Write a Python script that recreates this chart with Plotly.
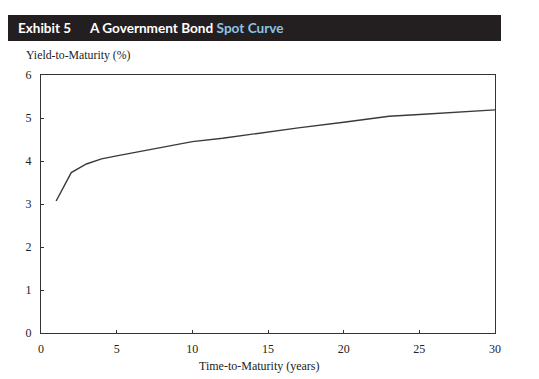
import plotly.graph_objects as go

maturity_years = [1, 2, 3, 4, 5, 7, 10, 12, 15, 17, 20, 23, 25, 27, 30]
spot_yield_pct = [3.07, 3.73, 3.93, 4.05, 4.12, 4.25, 4.45, 4.53, 4.68, 4.77, 4.90, 5.04, 5.08, 5.13, 5.19]
x_ticks = [0, 5, 10, 15, 20, 25, 30]
y_ticks = [0, 1, 2, 3, 4, 5, 6]

W, H = 539, 379
L, R, T, B = 41, 495, 75, 333
pw, ph = R - L, B - T

def px(x):
    return (x - L) / pw

def py(y):
    return (B - y) / ph

serif = "Liberation Serif, DejaVu Serif, serif"
sans = "Lato, Open Sans, sans-serif"

fig = go.Figure()
fig.add_trace(go.Scatter(x=maturity_years, y=spot_yield_pct, mode="lines",
                         line=dict(color="#3a3a3a", width=1.4),
                         showlegend=False, hoverinfo="x+y"))

axis_common = dict(showgrid=False, zeroline=False, showline=True, linecolor="#333333",
                   linewidth=1, mirror=True, ticks="inside", ticklen=3, tickcolor="#333333",
                   tickfont=dict(family=serif, size=12, color="#222222"))

fig.update_layout(
    width=W, height=H,
    margin=dict(l=L, r=W - R, t=T, b=H - B),
    paper_bgcolor="white", plot_bgcolor="white",
    xaxis=dict(range=[0, 30], tickvals=x_ticks, ticklabelstandoff=5, **axis_common),
    yaxis=dict(range=[0, 6], tickvals=y_ticks, ticklabelstandoff=6, **axis_common),
    shapes=[dict(type="rect", xref="paper", yref="paper",
                 x0=px(8), x1=px(501), y0=py(41), y1=py(15),
                 fillcolor="#231f20", line=dict(width=0), layer="above")],
    annotations=[
        dict(xref="paper", yref="paper", x=px(16), y=py(28), xanchor="left", yanchor="middle",
             text="<b>Exhibit 5</b>", showarrow=False,
             font=dict(family=sans, size=13.5, color="white")),
        dict(xref="paper", yref="paper", x=px(87), y=py(28), xanchor="left", yanchor="middle",
             text="<b>A Government Bond <span style='color:#8cc3e6'>Spot Curve</span></b>",
             showarrow=False, font=dict(family=sans, size=13.6, color="white")),
        dict(xref="paper", yref="paper", x=px(24), y=py(55), xanchor="left", yanchor="middle",
             text="Yield-to-Maturity (%)", showarrow=False,
             font=dict(family=serif, size=11.8, color="#222222")),
        dict(xref="paper", yref="paper", x=px(259), y=py(366), xanchor="center", yanchor="middle",
             text="Time-to-Maturity (years)", showarrow=False,
             font=dict(family=serif, size=12, color="#222222")),
    ],
)

fig.write_html("out.html", config={"displayModeBar": False},
               post_script="document.body.style.margin='0';")
